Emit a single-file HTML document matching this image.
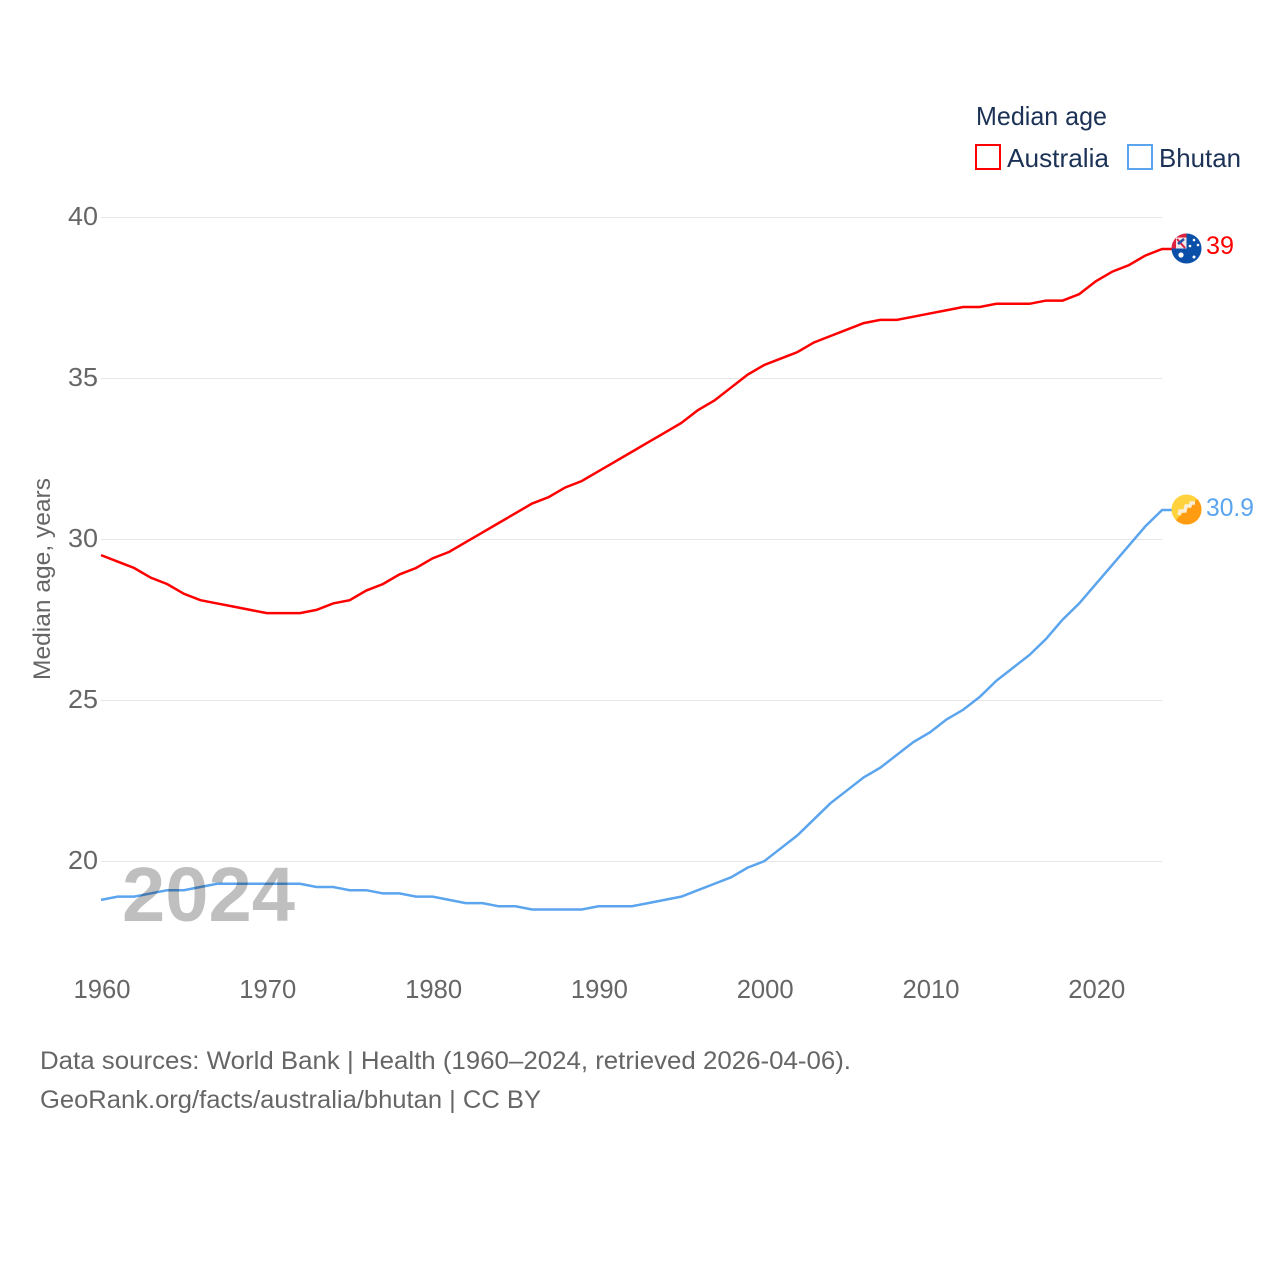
<!DOCTYPE html>
<html lang="en">
<head>
<meta charset="utf-8">
<title>Median age: Australia and Bhutan</title>
<style>
html,body{margin:0;padding:0;background:#fff;}
svg{display:block;font-family:"Liberation Sans",sans-serif;}
</style>
</head>
<body>
<svg id="chart" xmlns="http://www.w3.org/2000/svg" width="1280" height="1280" viewBox="0 0 1280 1280">
  <defs>
    <clipPath id="clip-au"><circle cx="1186.5" cy="248.5" r="15"/></clipPath>
    <clipPath id="clip-bt"><circle cx="1186.5" cy="509.5" r="15"/></clipPath>
  </defs>
  <rect width="1280" height="1280" fill="#fff"/>
  <g id="grid"></g>
  <g id="y-ticks"></g>
  <g id="x-ticks"></g>
  <text transform="translate(50,579) rotate(-90)" text-anchor="middle" font-size="24" fill="#666" textLength="202" lengthAdjust="spacingAndGlyphs">Median age, years</text>
  <g id="series"></g>
  <text x="122" y="921" font-size="77" font-weight="bold" fill="#000" fill-opacity="0.25" textLength="173" lengthAdjust="spacingAndGlyphs">2024</text>

  <g clip-path="url(#clip-au)">
    <rect x="1171" y="233" width="31" height="31" fill="#0a50a8"/>
    <rect x="1171" y="233" width="15.5" height="15.5" fill="#f0e6ea"/>
    <path d="M1171 233h15.5v4.5h-15.5zM1171 233h5v15.5h-5z" fill="#e0203f"/>
    <path d="M1177 239l8 9" stroke="#d82040" stroke-width="2"/>
    <path d="M1178 244l6-5" stroke="#2a4fa0" stroke-width="2.5"/>
    <circle cx="1181" cy="255" r="2.6" fill="#fff"/>
    <circle cx="1194" cy="240" r="1.3" fill="#fff"/>
    <circle cx="1198" cy="245" r="1.3" fill="#fff"/>
    <circle cx="1190" cy="246" r="1.3" fill="#fff"/>
    <circle cx="1194" cy="257" r="1.5" fill="#fff"/>
  </g>
  <text id="label-au" x="1206" y="254" font-size="25" fill="#ff0000" textLength="28" lengthAdjust="spacingAndGlyphs">39</text>

  <g clip-path="url(#clip-bt)">
    <rect x="1171" y="494" width="31" height="31" fill="#ffd23e"/>
    <path d="M1202 494v31h-31z" fill="#ff9c12"/>
    <path d="M1179 515l1-4h5l1-5h4l1-3h4" fill="none" stroke="#fbeed8" stroke-width="3.4"/>
  </g>
  <text id="label-bt" x="1206" y="516" font-size="25" fill="#5ba4ee" textLength="48" lengthAdjust="spacingAndGlyphs">30.9</text>

  <g>
    <text x="976" y="125" font-size="26" fill="#1b3155" textLength="131" lengthAdjust="spacingAndGlyphs">Median age</text>
    <rect x="976" y="145" width="24" height="24" fill="#fff" stroke="#ff0000" stroke-width="2"/>
    <text x="1007" y="167" font-size="26" fill="#1b3155" textLength="102" lengthAdjust="spacingAndGlyphs">Australia</text>
    <rect x="1128" y="145" width="24" height="24" fill="#fff" stroke="#5ba4ee" stroke-width="2"/>
    <text x="1159" y="167" font-size="26" fill="#1b3155" textLength="82" lengthAdjust="spacingAndGlyphs">Bhutan</text>
  </g>

  <g>
    <text x="40" y="1069" font-size="25" fill="#666" textLength="811" lengthAdjust="spacingAndGlyphs">Data sources: World Bank | Health (1960–2024, retrieved 2026-04-06).</text>
    <text x="40" y="1108" font-size="25" fill="#666" textLength="501" lengthAdjust="spacingAndGlyphs">GeoRank.org/facts/australia/bhutan | CC BY</text>
  </g>
</svg>
<script>
const years = [1960,1961,1962,1963,1964,1965,1966,1967,1968,1969,1970,1971,1972,1973,1974,1975,1976,1977,1978,1979,1980,1981,1982,1983,1984,1985,1986,1987,1988,1989,1990,1991,1992,1993,1994,1995,1996,1997,1998,1999,2000,2001,2002,2003,2004,2005,2006,2007,2008,2009,2010,2011,2012,2013,2014,2015,2016,2017,2018,2019,2020,2021,2022,2023,2024];
const australia = [29.5,29.3,29.1,28.8,28.6,28.3,28.1,28.0,27.9,27.8,27.7,27.7,27.7,27.8,28.0,28.1,28.4,28.6,28.9,29.1,29.4,29.6,29.9,30.2,30.5,30.8,31.1,31.3,31.6,31.8,32.1,32.4,32.7,33.0,33.3,33.6,34.0,34.3,34.7,35.1,35.4,35.6,35.8,36.1,36.3,36.5,36.7,36.8,36.8,36.9,37.0,37.1,37.2,37.2,37.3,37.3,37.3,37.4,37.4,37.6,38.0,38.3,38.5,38.8,39.0];
const bhutan = [18.8,18.9,18.9,19.0,19.1,19.1,19.2,19.3,19.3,19.3,19.3,19.3,19.3,19.2,19.2,19.1,19.1,19.0,19.0,18.9,18.9,18.8,18.7,18.7,18.6,18.6,18.5,18.5,18.5,18.5,18.6,18.6,18.6,18.7,18.8,18.9,19.1,19.3,19.5,19.8,20.0,20.4,20.8,21.3,21.8,22.2,22.6,22.9,23.3,23.7,24.0,24.4,24.7,25.1,25.6,26.0,26.4,26.9,27.5,28.0,28.6,29.2,29.8,30.4,30.9];
const yTicks = [20,25,30,35,40];
const xTicks = [1960,1970,1980,1990,2000,2010,2020];

const SVGNS = 'http://www.w3.org/2000/svg';
function xScale(year) { return 101 + (year - 1960) * 16.58; }
function yScale(value) { return 861.2 - (value - 20) * 32.22; }

const gridGroup = document.getElementById('grid');
const yTickGroup = document.getElementById('y-ticks');
const xTickGroup = document.getElementById('x-ticks');
const seriesGroup = document.getElementById('series');

yTicks.forEach(function (t) {
  const line = document.createElementNS(SVGNS, 'line');
  
  
  line.setAttribute('x1', 101);
  line.setAttribute('x2', 1162);
  line.setAttribute('y1', Math.round(yScale(t)) + 0.5);
  line.setAttribute('y2', Math.round(yScale(t)) + 0.5);
  line.setAttribute('stroke', '#e6e6e6');
  line.setAttribute('stroke-width', '1');
  gridGroup.appendChild(line);

  const label = document.createElementNS(SVGNS, 'text');
  
  
  label.setAttribute('x', 98);
  label.setAttribute('y', yScale(t) + 8);
  label.setAttribute('text-anchor', 'end');
  label.setAttribute('font-size', '26');
  label.setAttribute('fill', '#666');
  label.setAttribute('textLength', '30');
  label.setAttribute('lengthAdjust', 'spacingAndGlyphs');
  label.textContent = t;
  yTickGroup.appendChild(label);
});

xTicks.forEach(function (t) {
  const label = document.createElementNS(SVGNS, 'text');
  
  
  label.setAttribute('x', xScale(t) + 1);
  label.setAttribute('y', 998);
  label.setAttribute('text-anchor', 'middle');
  label.setAttribute('font-size', '26');
  label.setAttribute('fill', '#666');
  label.setAttribute('textLength', '57');
  label.setAttribute('lengthAdjust', 'spacingAndGlyphs');
  label.textContent = t;
  xTickGroup.appendChild(label);
});

function linePath(values) {
  return values.map(function (v, i) {
    return (i ? 'L' : 'M') + xScale(years[i]).toFixed(2) + ' ' + yScale(v).toFixed(2);
  }).join('');
}

const australiaLine = document.createElementNS(SVGNS, 'path');


australiaLine.setAttribute('d', linePath(australia) + 'h12');
australiaLine.setAttribute('fill', 'none');
australiaLine.setAttribute('stroke', '#ff0000');
australiaLine.setAttribute('stroke-width', '2.5');
seriesGroup.appendChild(australiaLine);

const bhutanLine = document.createElementNS(SVGNS, 'path');


bhutanLine.setAttribute('d', linePath(bhutan) + 'h12');
bhutanLine.setAttribute('fill', 'none');
bhutanLine.setAttribute('stroke', '#5ba4ee');
bhutanLine.setAttribute('stroke-width', '2.5');
seriesGroup.appendChild(bhutanLine);
</script>
</body>
</html>
